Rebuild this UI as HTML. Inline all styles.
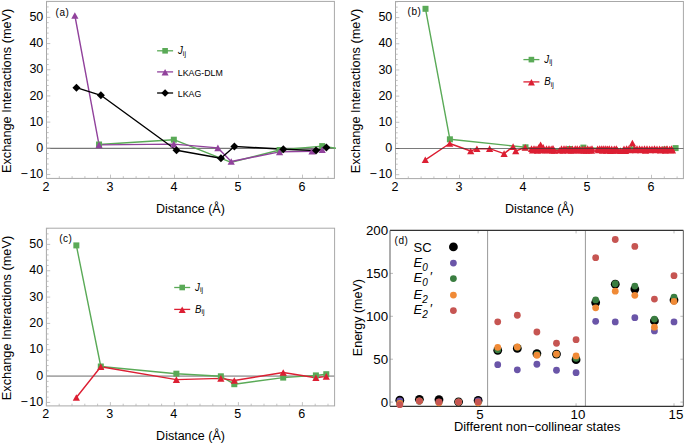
<!DOCTYPE html>
<html><head><meta charset="utf-8"><style>html,body{margin:0;padding:0;background:#fff;width:685px;height:444px;overflow:hidden}svg{display:block}text{font-family:"Liberation Sans",sans-serif}</style></head><body>
<svg width="685" height="444" viewBox="0 0 685 444" font-family='"Liberation Sans", sans-serif' fill="#000">
<rect width="685" height="444" fill="#fff"/>
<clipPath id="clipa"><rect x="46.5" y="1.4" width="289.5" height="177"/></clipPath>
<line x1="46.5" y1="148.3" x2="334.4" y2="148.3" stroke="#555" stroke-width="1" stroke-opacity="1"/>
<rect x="46.5" y="1.4" width="287.9" height="177" fill="none" stroke="#a8a8a8" stroke-width="1"/>
<line x1="46.5" y1="174.48" x2="50.3" y2="174.48" stroke="#b4b4b4" stroke-width="0.8"/>
<text x="43.3" y="178.08" font-size="12.5" text-anchor="end" >&#8722;<tspan dx="1.6">10</tspan></text>
<line x1="46.5" y1="169.24" x2="48.7" y2="169.24" stroke="#b4b4b4" stroke-width="0.8"/>
<line x1="46.5" y1="164.01" x2="48.7" y2="164.01" stroke="#b4b4b4" stroke-width="0.8"/>
<line x1="46.5" y1="158.77" x2="48.7" y2="158.77" stroke="#b4b4b4" stroke-width="0.8"/>
<line x1="46.5" y1="153.54" x2="48.7" y2="153.54" stroke="#b4b4b4" stroke-width="0.8"/>
<line x1="46.5" y1="148.3" x2="50.3" y2="148.3" stroke="#b4b4b4" stroke-width="0.8"/>
<text x="43.3" y="151.9" font-size="12.5" text-anchor="end" >0</text>
<line x1="46.5" y1="143.06" x2="48.7" y2="143.06" stroke="#b4b4b4" stroke-width="0.8"/>
<line x1="46.5" y1="137.83" x2="48.7" y2="137.83" stroke="#b4b4b4" stroke-width="0.8"/>
<line x1="46.5" y1="132.59" x2="48.7" y2="132.59" stroke="#b4b4b4" stroke-width="0.8"/>
<line x1="46.5" y1="127.36" x2="48.7" y2="127.36" stroke="#b4b4b4" stroke-width="0.8"/>
<line x1="46.5" y1="122.12" x2="50.3" y2="122.12" stroke="#b4b4b4" stroke-width="0.8"/>
<text x="43.3" y="125.72" font-size="12.5" text-anchor="end" >10</text>
<line x1="46.5" y1="116.88" x2="48.7" y2="116.88" stroke="#b4b4b4" stroke-width="0.8"/>
<line x1="46.5" y1="111.65" x2="48.7" y2="111.65" stroke="#b4b4b4" stroke-width="0.8"/>
<line x1="46.5" y1="106.41" x2="48.7" y2="106.41" stroke="#b4b4b4" stroke-width="0.8"/>
<line x1="46.5" y1="101.18" x2="48.7" y2="101.18" stroke="#b4b4b4" stroke-width="0.8"/>
<line x1="46.5" y1="95.94" x2="50.3" y2="95.94" stroke="#b4b4b4" stroke-width="0.8"/>
<text x="43.3" y="99.54" font-size="12.5" text-anchor="end" >20</text>
<line x1="46.5" y1="90.7" x2="48.7" y2="90.7" stroke="#b4b4b4" stroke-width="0.8"/>
<line x1="46.5" y1="85.47" x2="48.7" y2="85.47" stroke="#b4b4b4" stroke-width="0.8"/>
<line x1="46.5" y1="80.23" x2="48.7" y2="80.23" stroke="#b4b4b4" stroke-width="0.8"/>
<line x1="46.5" y1="75" x2="48.7" y2="75" stroke="#b4b4b4" stroke-width="0.8"/>
<line x1="46.5" y1="69.76" x2="50.3" y2="69.76" stroke="#b4b4b4" stroke-width="0.8"/>
<text x="43.3" y="73.36" font-size="12.5" text-anchor="end" >30</text>
<line x1="46.5" y1="64.52" x2="48.7" y2="64.52" stroke="#b4b4b4" stroke-width="0.8"/>
<line x1="46.5" y1="59.29" x2="48.7" y2="59.29" stroke="#b4b4b4" stroke-width="0.8"/>
<line x1="46.5" y1="54.05" x2="48.7" y2="54.05" stroke="#b4b4b4" stroke-width="0.8"/>
<line x1="46.5" y1="48.82" x2="48.7" y2="48.82" stroke="#b4b4b4" stroke-width="0.8"/>
<line x1="46.5" y1="43.58" x2="50.3" y2="43.58" stroke="#b4b4b4" stroke-width="0.8"/>
<text x="43.3" y="47.18" font-size="12.5" text-anchor="end" >40</text>
<line x1="46.5" y1="38.34" x2="48.7" y2="38.34" stroke="#b4b4b4" stroke-width="0.8"/>
<line x1="46.5" y1="33.11" x2="48.7" y2="33.11" stroke="#b4b4b4" stroke-width="0.8"/>
<line x1="46.5" y1="27.87" x2="48.7" y2="27.87" stroke="#b4b4b4" stroke-width="0.8"/>
<line x1="46.5" y1="22.64" x2="48.7" y2="22.64" stroke="#b4b4b4" stroke-width="0.8"/>
<line x1="46.5" y1="17.4" x2="50.3" y2="17.4" stroke="#b4b4b4" stroke-width="0.8"/>
<text x="43.3" y="21" font-size="12.5" text-anchor="end" >50</text>
<line x1="46.5" y1="12.16" x2="48.7" y2="12.16" stroke="#b4b4b4" stroke-width="0.8"/>
<line x1="46.5" y1="6.93" x2="48.7" y2="6.93" stroke="#b4b4b4" stroke-width="0.8"/>
<line x1="46.5" y1="1.69" x2="48.7" y2="1.69" stroke="#b4b4b4" stroke-width="0.8"/>
<line x1="46.5" y1="178.4" x2="46.5" y2="174.6" stroke="#b4b4b4" stroke-width="0.8"/>
<text x="45.9" y="190.8" font-size="12.5" text-anchor="middle" >2</text>
<line x1="59.3" y1="178.4" x2="59.3" y2="176.2" stroke="#b4b4b4" stroke-width="0.8"/>
<line x1="72.1" y1="178.4" x2="72.1" y2="176.2" stroke="#b4b4b4" stroke-width="0.8"/>
<line x1="84.9" y1="178.4" x2="84.9" y2="176.2" stroke="#b4b4b4" stroke-width="0.8"/>
<line x1="97.7" y1="178.4" x2="97.7" y2="176.2" stroke="#b4b4b4" stroke-width="0.8"/>
<line x1="110.5" y1="178.4" x2="110.5" y2="174.6" stroke="#b4b4b4" stroke-width="0.8"/>
<text x="109.9" y="190.8" font-size="12.5" text-anchor="middle" >3</text>
<line x1="123.3" y1="178.4" x2="123.3" y2="176.2" stroke="#b4b4b4" stroke-width="0.8"/>
<line x1="136.1" y1="178.4" x2="136.1" y2="176.2" stroke="#b4b4b4" stroke-width="0.8"/>
<line x1="148.9" y1="178.4" x2="148.9" y2="176.2" stroke="#b4b4b4" stroke-width="0.8"/>
<line x1="161.7" y1="178.4" x2="161.7" y2="176.2" stroke="#b4b4b4" stroke-width="0.8"/>
<line x1="174.5" y1="178.4" x2="174.5" y2="174.6" stroke="#b4b4b4" stroke-width="0.8"/>
<text x="173.9" y="190.8" font-size="12.5" text-anchor="middle" >4</text>
<line x1="187.3" y1="178.4" x2="187.3" y2="176.2" stroke="#b4b4b4" stroke-width="0.8"/>
<line x1="200.1" y1="178.4" x2="200.1" y2="176.2" stroke="#b4b4b4" stroke-width="0.8"/>
<line x1="212.9" y1="178.4" x2="212.9" y2="176.2" stroke="#b4b4b4" stroke-width="0.8"/>
<line x1="225.7" y1="178.4" x2="225.7" y2="176.2" stroke="#b4b4b4" stroke-width="0.8"/>
<line x1="238.5" y1="178.4" x2="238.5" y2="174.6" stroke="#b4b4b4" stroke-width="0.8"/>
<text x="237.9" y="190.8" font-size="12.5" text-anchor="middle" >5</text>
<line x1="251.3" y1="178.4" x2="251.3" y2="176.2" stroke="#b4b4b4" stroke-width="0.8"/>
<line x1="264.1" y1="178.4" x2="264.1" y2="176.2" stroke="#b4b4b4" stroke-width="0.8"/>
<line x1="276.9" y1="178.4" x2="276.9" y2="176.2" stroke="#b4b4b4" stroke-width="0.8"/>
<line x1="289.7" y1="178.4" x2="289.7" y2="176.2" stroke="#b4b4b4" stroke-width="0.8"/>
<line x1="302.5" y1="178.4" x2="302.5" y2="174.6" stroke="#b4b4b4" stroke-width="0.8"/>
<text x="301.9" y="190.8" font-size="12.5" text-anchor="middle" >6</text>
<line x1="315.3" y1="178.4" x2="315.3" y2="176.2" stroke="#b4b4b4" stroke-width="0.8"/>
<line x1="328.1" y1="178.4" x2="328.1" y2="176.2" stroke="#b4b4b4" stroke-width="0.8"/>
<text x="190.45" y="212.6" font-size="12.5" text-anchor="middle" >Distance (&#197;)</text>
<text x="0" y="0" font-size="12.75" text-anchor="middle" transform="translate(10.9,90.85) rotate(-90)">Exchange Interactions (meV)</text>
<text x="55.5" y="15.5" font-size="10" text-anchor="start" letter-spacing="0.55">(a)</text>
<g clip-path="url(#clipa)">
<polyline points="99.04,144.5 173.83,139.7 231.21,162.3 279.59,150 322.21,146.1 388.9,156.6" fill="none" stroke="#5aaa57" stroke-width="1.4" stroke-linejoin="round"/>
<polyline points="74.86,15.5 99.04,144.9 173.83,144.1 217.9,147.9 231.21,161.5 279.59,151.9 311.99,151.2 322.21,149.6" fill="none" stroke="#91429c" stroke-width="1.4" stroke-linejoin="round"/>
<polyline points="76.45,87.7 100.9,95.3 176.48,150.2 220.96,158.3 234.4,146.4 283.3,149.3 316,150.5 326.37,147.6" fill="none" stroke="#000000" stroke-width="1.4" stroke-linejoin="round"/>
<rect x="96.04" y="141.5" width="6" height="6" fill="#5aaa57"/>
<rect x="170.83" y="136.7" width="6" height="6" fill="#5aaa57"/>
<rect x="276.59" y="147" width="6" height="6" fill="#5aaa57"/>
<rect x="319.21" y="143.1" width="6" height="6" fill="#5aaa57"/>
<rect x="385.9" y="153.6" width="6" height="6" fill="#5aaa57"/>
<path d="M74.86,12.2L78.46,18.8L71.26,18.8Z" fill="#91429c"/>
<path d="M99.04,141.6L102.64,148.2L95.44,148.2Z" fill="#91429c"/>
<path d="M173.83,140.8L177.43,147.4L170.23,147.4Z" fill="#91429c"/>
<path d="M217.9,144.6L221.5,151.2L214.3,151.2Z" fill="#91429c"/>
<path d="M231.21,158.2L234.81,164.8L227.61,164.8Z" fill="#91429c"/>
<path d="M279.59,148.6L283.19,155.2L275.99,155.2Z" fill="#91429c"/>
<path d="M311.99,147.9L315.59,154.5L308.39,154.5Z" fill="#91429c"/>
<path d="M322.21,146.3L325.81,152.9L318.61,152.9Z" fill="#91429c"/>
<path d="M76.45,83.7L80.45,87.7L76.45,91.7L72.45,87.7Z" fill="#000000"/>
<path d="M100.9,91.3L104.9,95.3L100.9,99.3L96.9,95.3Z" fill="#000000"/>
<path d="M176.48,146.2L180.48,150.2L176.48,154.2L172.48,150.2Z" fill="#000000"/>
<path d="M220.96,154.3L224.96,158.3L220.96,162.3L216.96,158.3Z" fill="#000000"/>
<path d="M234.4,142.4L238.4,146.4L234.4,150.4L230.4,146.4Z" fill="#000000"/>
<path d="M283.3,145.3L287.3,149.3L283.3,153.3L279.3,149.3Z" fill="#000000"/>
<path d="M316,146.5L320,150.5L316,154.5L312,150.5Z" fill="#000000"/>
<path d="M326.37,143.6L330.37,147.6L326.37,151.6L322.37,147.6Z" fill="#000000"/>
</g>
<line x1="157.1" y1="50.8" x2="173.1" y2="50.8" stroke="#5aaa57" stroke-width="1.3"/>
<rect x="162.3" y="48" width="5.6" height="5.6" fill="#5aaa57"/>
<text transform="translate(178,54.2) scale(1,1.14)" font-size="9.7"><tspan font-style="italic">J</tspan><tspan font-size="6.9" dy="1.3">ij</tspan></text>
<line x1="157.1" y1="71.9" x2="173.1" y2="71.9" stroke="#91429c" stroke-width="1.3"/>
<path d="M165.1,69.1L168.6,75.5L161.6,75.5Z" fill="#91429c"/>
<text x="177.8" y="75.8" font-size="8.8" text-anchor="start" >LKAG-DLM</text>
<line x1="157.1" y1="93" x2="173.1" y2="93" stroke="#000000" stroke-width="1.3"/>
<path d="M165.1,89.2L168.9,93L165.1,96.8L161.3,93Z" fill="#000000"/>
<text x="177.8" y="96.9" font-size="8.8" text-anchor="start" >LKAG</text>
<clipPath id="clipb"><rect x="395.5" y="1.5" width="289.5" height="177.1"/></clipPath>
<rect x="395.5" y="1.5" width="287.9" height="177.1" fill="none" stroke="#a8a8a8" stroke-width="1"/>
<line x1="395.5" y1="174.68" x2="399.3" y2="174.68" stroke="#b4b4b4" stroke-width="0.8"/>
<text x="392.3" y="178.28" font-size="12.5" text-anchor="end" >&#8722;<tspan dx="1.6">10</tspan></text>
<line x1="395.5" y1="169.44" x2="397.7" y2="169.44" stroke="#b4b4b4" stroke-width="0.8"/>
<line x1="395.5" y1="164.21" x2="397.7" y2="164.21" stroke="#b4b4b4" stroke-width="0.8"/>
<line x1="395.5" y1="158.97" x2="397.7" y2="158.97" stroke="#b4b4b4" stroke-width="0.8"/>
<line x1="395.5" y1="153.74" x2="397.7" y2="153.74" stroke="#b4b4b4" stroke-width="0.8"/>
<line x1="395.5" y1="148.5" x2="399.3" y2="148.5" stroke="#b4b4b4" stroke-width="0.8"/>
<text x="392.3" y="152.1" font-size="12.5" text-anchor="end" >0</text>
<line x1="395.5" y1="143.26" x2="397.7" y2="143.26" stroke="#b4b4b4" stroke-width="0.8"/>
<line x1="395.5" y1="138.03" x2="397.7" y2="138.03" stroke="#b4b4b4" stroke-width="0.8"/>
<line x1="395.5" y1="132.79" x2="397.7" y2="132.79" stroke="#b4b4b4" stroke-width="0.8"/>
<line x1="395.5" y1="127.56" x2="397.7" y2="127.56" stroke="#b4b4b4" stroke-width="0.8"/>
<line x1="395.5" y1="122.32" x2="399.3" y2="122.32" stroke="#b4b4b4" stroke-width="0.8"/>
<text x="392.3" y="125.92" font-size="12.5" text-anchor="end" >10</text>
<line x1="395.5" y1="117.08" x2="397.7" y2="117.08" stroke="#b4b4b4" stroke-width="0.8"/>
<line x1="395.5" y1="111.85" x2="397.7" y2="111.85" stroke="#b4b4b4" stroke-width="0.8"/>
<line x1="395.5" y1="106.61" x2="397.7" y2="106.61" stroke="#b4b4b4" stroke-width="0.8"/>
<line x1="395.5" y1="101.38" x2="397.7" y2="101.38" stroke="#b4b4b4" stroke-width="0.8"/>
<line x1="395.5" y1="96.14" x2="399.3" y2="96.14" stroke="#b4b4b4" stroke-width="0.8"/>
<text x="392.3" y="99.74" font-size="12.5" text-anchor="end" >20</text>
<line x1="395.5" y1="90.9" x2="397.7" y2="90.9" stroke="#b4b4b4" stroke-width="0.8"/>
<line x1="395.5" y1="85.67" x2="397.7" y2="85.67" stroke="#b4b4b4" stroke-width="0.8"/>
<line x1="395.5" y1="80.43" x2="397.7" y2="80.43" stroke="#b4b4b4" stroke-width="0.8"/>
<line x1="395.5" y1="75.2" x2="397.7" y2="75.2" stroke="#b4b4b4" stroke-width="0.8"/>
<line x1="395.5" y1="69.96" x2="399.3" y2="69.96" stroke="#b4b4b4" stroke-width="0.8"/>
<text x="392.3" y="73.56" font-size="12.5" text-anchor="end" >30</text>
<line x1="395.5" y1="64.72" x2="397.7" y2="64.72" stroke="#b4b4b4" stroke-width="0.8"/>
<line x1="395.5" y1="59.49" x2="397.7" y2="59.49" stroke="#b4b4b4" stroke-width="0.8"/>
<line x1="395.5" y1="54.25" x2="397.7" y2="54.25" stroke="#b4b4b4" stroke-width="0.8"/>
<line x1="395.5" y1="49.02" x2="397.7" y2="49.02" stroke="#b4b4b4" stroke-width="0.8"/>
<line x1="395.5" y1="43.78" x2="399.3" y2="43.78" stroke="#b4b4b4" stroke-width="0.8"/>
<text x="392.3" y="47.38" font-size="12.5" text-anchor="end" >40</text>
<line x1="395.5" y1="38.54" x2="397.7" y2="38.54" stroke="#b4b4b4" stroke-width="0.8"/>
<line x1="395.5" y1="33.31" x2="397.7" y2="33.31" stroke="#b4b4b4" stroke-width="0.8"/>
<line x1="395.5" y1="28.07" x2="397.7" y2="28.07" stroke="#b4b4b4" stroke-width="0.8"/>
<line x1="395.5" y1="22.84" x2="397.7" y2="22.84" stroke="#b4b4b4" stroke-width="0.8"/>
<line x1="395.5" y1="17.6" x2="399.3" y2="17.6" stroke="#b4b4b4" stroke-width="0.8"/>
<text x="392.3" y="21.2" font-size="12.5" text-anchor="end" >50</text>
<line x1="395.5" y1="12.36" x2="397.7" y2="12.36" stroke="#b4b4b4" stroke-width="0.8"/>
<line x1="395.5" y1="7.13" x2="397.7" y2="7.13" stroke="#b4b4b4" stroke-width="0.8"/>
<line x1="395.5" y1="1.89" x2="397.7" y2="1.89" stroke="#b4b4b4" stroke-width="0.8"/>
<line x1="395.5" y1="178.6" x2="395.5" y2="174.8" stroke="#b4b4b4" stroke-width="0.8"/>
<text x="394.9" y="191" font-size="12.5" text-anchor="middle" >2</text>
<line x1="408.3" y1="178.6" x2="408.3" y2="176.4" stroke="#b4b4b4" stroke-width="0.8"/>
<line x1="421.1" y1="178.6" x2="421.1" y2="176.4" stroke="#b4b4b4" stroke-width="0.8"/>
<line x1="433.9" y1="178.6" x2="433.9" y2="176.4" stroke="#b4b4b4" stroke-width="0.8"/>
<line x1="446.7" y1="178.6" x2="446.7" y2="176.4" stroke="#b4b4b4" stroke-width="0.8"/>
<line x1="459.5" y1="178.6" x2="459.5" y2="174.8" stroke="#b4b4b4" stroke-width="0.8"/>
<text x="458.9" y="191" font-size="12.5" text-anchor="middle" >3</text>
<line x1="472.3" y1="178.6" x2="472.3" y2="176.4" stroke="#b4b4b4" stroke-width="0.8"/>
<line x1="485.1" y1="178.6" x2="485.1" y2="176.4" stroke="#b4b4b4" stroke-width="0.8"/>
<line x1="497.9" y1="178.6" x2="497.9" y2="176.4" stroke="#b4b4b4" stroke-width="0.8"/>
<line x1="510.7" y1="178.6" x2="510.7" y2="176.4" stroke="#b4b4b4" stroke-width="0.8"/>
<line x1="523.5" y1="178.6" x2="523.5" y2="174.8" stroke="#b4b4b4" stroke-width="0.8"/>
<text x="522.9" y="191" font-size="12.5" text-anchor="middle" >4</text>
<line x1="536.3" y1="178.6" x2="536.3" y2="176.4" stroke="#b4b4b4" stroke-width="0.8"/>
<line x1="549.1" y1="178.6" x2="549.1" y2="176.4" stroke="#b4b4b4" stroke-width="0.8"/>
<line x1="561.9" y1="178.6" x2="561.9" y2="176.4" stroke="#b4b4b4" stroke-width="0.8"/>
<line x1="574.7" y1="178.6" x2="574.7" y2="176.4" stroke="#b4b4b4" stroke-width="0.8"/>
<line x1="587.5" y1="178.6" x2="587.5" y2="174.8" stroke="#b4b4b4" stroke-width="0.8"/>
<text x="586.9" y="191" font-size="12.5" text-anchor="middle" >5</text>
<line x1="600.3" y1="178.6" x2="600.3" y2="176.4" stroke="#b4b4b4" stroke-width="0.8"/>
<line x1="613.1" y1="178.6" x2="613.1" y2="176.4" stroke="#b4b4b4" stroke-width="0.8"/>
<line x1="625.9" y1="178.6" x2="625.9" y2="176.4" stroke="#b4b4b4" stroke-width="0.8"/>
<line x1="638.7" y1="178.6" x2="638.7" y2="176.4" stroke="#b4b4b4" stroke-width="0.8"/>
<line x1="651.5" y1="178.6" x2="651.5" y2="174.8" stroke="#b4b4b4" stroke-width="0.8"/>
<text x="650.9" y="191" font-size="12.5" text-anchor="middle" >6</text>
<line x1="664.3" y1="178.6" x2="664.3" y2="176.4" stroke="#b4b4b4" stroke-width="0.8"/>
<line x1="677.1" y1="178.6" x2="677.1" y2="176.4" stroke="#b4b4b4" stroke-width="0.8"/>
<text x="539.45" y="212.8" font-size="12.5" text-anchor="middle" >Distance (&#197;)</text>
<text x="0" y="0" font-size="12.75" text-anchor="middle" transform="translate(359.9,91) rotate(-90)">Exchange Interactions (meV)</text>
<text x="407.5" y="14.8" font-size="10" text-anchor="start" letter-spacing="0.55">(b)</text>
<g clip-path="url(#clipb)">
<polyline points="425.5,8.8 449.9,139.3 525.5,147.3 538.4,149.8 570,149 583.4,147.6 632.3,149.5 665,149.5 675.6,148.1" fill="none" stroke="#5aaa57" stroke-width="1.4" stroke-linejoin="round"/>
<polyline points="425.3,159.8 449.7,143.5 470.7,151 476.9,148.7 489.6,148.6 504.1,153.6 513.1,146.6 515.7,151 525.2,147.4 531.5,148.59 532.5,150.19 534,148.49 536,148.79 537.5,150.43 538.6,147.6 540.6,144.8 541.5,150.01 543,148.72 543.2,147.4 545,150.24 546.5,148.62 548,149.93 549,148.43 551.2,148.7 552,150.37 553,148.42 554.5,150.44 559.5,150.3 561.5,148.66 563,150.51 564,148.44 566.1,148.45 568,150.12 569.6,148.65 571,150.39 572.5,148.9 574,150.32 575.2,148.47 577.2,148.53 578,150.31 579.6,148.78 581,150.22 582.5,148.97 584,150.49 585.1,148.75 586.5,150.56 587.7,148.64 589,150.23 590.1,148.99 591.5,150.36 592,148.43 597.6,148.92 598.5,149.94 599.7,148.57 601.8,148.49 602.5,150.39 603.8,148.47 605.8,148.59 606.5,150.35 607.6,148.89 609.3,148.51 610.5,150.6 611.7,148.75 613,150.48 614.3,148.78 615.5,150.1 616.3,148.62 617.5,150.17 620.5,150.6 623,150.6 624,148.73 625.5,150.6 626.6,148.44 628.9,148.44 630,150.02 632.4,143 634.5,148.81 635.5,149.98 637,148.66 639.5,148.59 640.5,149.94 642,148.75 644.5,148.67 645.5,150.44 647,148.58 649.5,148.88 650.5,149.99 652,148.82 654.5,148.55 655.5,150.07 657,148.74 659.5,148.72 660.5,150.17 662,148.93 664.5,148.84 665.5,150.51 667,148.57 669.5,148.99 670.5,149.96 671.5,148.47 672.5,150.21" fill="none" stroke="#dc1f33" stroke-width="1.4" stroke-linejoin="round"/>
<rect x="422.5" y="5.8" width="6" height="6" fill="#5aaa57"/>
<rect x="446.9" y="136.3" width="6" height="6" fill="#5aaa57"/>
<rect x="522.5" y="144.3" width="6" height="6" fill="#5aaa57"/>
<rect x="535.4" y="146.8" width="6" height="6" fill="#5aaa57"/>
<rect x="567" y="146" width="6" height="6" fill="#5aaa57"/>
<rect x="580.4" y="144.6" width="6" height="6" fill="#5aaa57"/>
<rect x="629.3" y="146.5" width="6" height="6" fill="#5aaa57"/>
<rect x="662" y="146.5" width="6" height="6" fill="#5aaa57"/>
<rect x="672.6" y="145.1" width="6" height="6" fill="#5aaa57"/>
<path d="M425.3,156.5L428.9,163.1L421.7,163.1Z" fill="#dc1f33"/>
<path d="M449.7,140.2L453.3,146.8L446.1,146.8Z" fill="#dc1f33"/>
<path d="M470.7,147.7L474.3,154.3L467.1,154.3Z" fill="#dc1f33"/>
<path d="M476.9,145.4L480.5,152L473.3,152Z" fill="#dc1f33"/>
<path d="M489.6,145.3L493.2,151.9L486,151.9Z" fill="#dc1f33"/>
<path d="M504.1,150.3L507.7,156.9L500.5,156.9Z" fill="#dc1f33"/>
<path d="M513.1,143.3L516.7,149.9L509.5,149.9Z" fill="#dc1f33"/>
<path d="M515.7,147.7L519.3,154.3L512.1,154.3Z" fill="#dc1f33"/>
<path d="M525.2,144.1L528.8,150.7L521.6,150.7Z" fill="#dc1f33"/>
<path d="M531.5,145.29L535.1,151.89L527.9,151.89Z" fill="#dc1f33"/>
<path d="M532.5,146.89L536.1,153.49L528.9,153.49Z" fill="#dc1f33"/>
<path d="M534,145.19L537.6,151.79L530.4,151.79Z" fill="#dc1f33"/>
<path d="M536,145.49L539.6,152.09L532.4,152.09Z" fill="#dc1f33"/>
<path d="M537.5,147.13L541.1,153.73L533.9,153.73Z" fill="#dc1f33"/>
<path d="M538.6,144.3L542.2,150.9L535,150.9Z" fill="#dc1f33"/>
<path d="M540.6,141.5L544.2,148.1L537,148.1Z" fill="#dc1f33"/>
<path d="M541.5,146.71L545.1,153.31L537.9,153.31Z" fill="#dc1f33"/>
<path d="M543,145.42L546.6,152.02L539.4,152.02Z" fill="#dc1f33"/>
<path d="M543.2,144.1L546.8,150.7L539.6,150.7Z" fill="#dc1f33"/>
<path d="M545,146.94L548.6,153.54L541.4,153.54Z" fill="#dc1f33"/>
<path d="M546.5,145.32L550.1,151.92L542.9,151.92Z" fill="#dc1f33"/>
<path d="M548,146.63L551.6,153.23L544.4,153.23Z" fill="#dc1f33"/>
<path d="M549,145.13L552.6,151.73L545.4,151.73Z" fill="#dc1f33"/>
<path d="M551.2,145.4L554.8,152L547.6,152Z" fill="#dc1f33"/>
<path d="M552,147.07L555.6,153.67L548.4,153.67Z" fill="#dc1f33"/>
<path d="M553,145.12L556.6,151.72L549.4,151.72Z" fill="#dc1f33"/>
<path d="M554.5,147.14L558.1,153.74L550.9,153.74Z" fill="#dc1f33"/>
<path d="M559.5,147L563.1,153.6L555.9,153.6Z" fill="#dc1f33"/>
<path d="M561.5,145.36L565.1,151.96L557.9,151.96Z" fill="#dc1f33"/>
<path d="M563,147.21L566.6,153.81L559.4,153.81Z" fill="#dc1f33"/>
<path d="M564,145.14L567.6,151.74L560.4,151.74Z" fill="#dc1f33"/>
<path d="M566.1,145.15L569.7,151.75L562.5,151.75Z" fill="#dc1f33"/>
<path d="M568,146.82L571.6,153.42L564.4,153.42Z" fill="#dc1f33"/>
<path d="M569.6,145.35L573.2,151.95L566,151.95Z" fill="#dc1f33"/>
<path d="M571,147.09L574.6,153.69L567.4,153.69Z" fill="#dc1f33"/>
<path d="M572.5,145.6L576.1,152.2L568.9,152.2Z" fill="#dc1f33"/>
<path d="M574,147.02L577.6,153.62L570.4,153.62Z" fill="#dc1f33"/>
<path d="M575.2,145.17L578.8,151.77L571.6,151.77Z" fill="#dc1f33"/>
<path d="M577.2,145.23L580.8,151.83L573.6,151.83Z" fill="#dc1f33"/>
<path d="M578,147.01L581.6,153.61L574.4,153.61Z" fill="#dc1f33"/>
<path d="M579.6,145.48L583.2,152.08L576,152.08Z" fill="#dc1f33"/>
<path d="M581,146.92L584.6,153.52L577.4,153.52Z" fill="#dc1f33"/>
<path d="M582.5,145.67L586.1,152.27L578.9,152.27Z" fill="#dc1f33"/>
<path d="M584,147.19L587.6,153.79L580.4,153.79Z" fill="#dc1f33"/>
<path d="M585.1,145.45L588.7,152.05L581.5,152.05Z" fill="#dc1f33"/>
<path d="M586.5,147.26L590.1,153.86L582.9,153.86Z" fill="#dc1f33"/>
<path d="M587.7,145.34L591.3,151.94L584.1,151.94Z" fill="#dc1f33"/>
<path d="M589,146.93L592.6,153.53L585.4,153.53Z" fill="#dc1f33"/>
<path d="M590.1,145.69L593.7,152.29L586.5,152.29Z" fill="#dc1f33"/>
<path d="M591.5,147.06L595.1,153.66L587.9,153.66Z" fill="#dc1f33"/>
<path d="M592,145.13L595.6,151.73L588.4,151.73Z" fill="#dc1f33"/>
<path d="M597.6,145.62L601.2,152.22L594,152.22Z" fill="#dc1f33"/>
<path d="M598.5,146.64L602.1,153.24L594.9,153.24Z" fill="#dc1f33"/>
<path d="M599.7,145.27L603.3,151.87L596.1,151.87Z" fill="#dc1f33"/>
<path d="M601.8,145.19L605.4,151.79L598.2,151.79Z" fill="#dc1f33"/>
<path d="M602.5,147.09L606.1,153.69L598.9,153.69Z" fill="#dc1f33"/>
<path d="M603.8,145.17L607.4,151.77L600.2,151.77Z" fill="#dc1f33"/>
<path d="M605.8,145.29L609.4,151.89L602.2,151.89Z" fill="#dc1f33"/>
<path d="M606.5,147.05L610.1,153.65L602.9,153.65Z" fill="#dc1f33"/>
<path d="M607.6,145.59L611.2,152.19L604,152.19Z" fill="#dc1f33"/>
<path d="M609.3,145.21L612.9,151.81L605.7,151.81Z" fill="#dc1f33"/>
<path d="M610.5,147.3L614.1,153.9L606.9,153.9Z" fill="#dc1f33"/>
<path d="M611.7,145.45L615.3,152.05L608.1,152.05Z" fill="#dc1f33"/>
<path d="M613,147.18L616.6,153.78L609.4,153.78Z" fill="#dc1f33"/>
<path d="M614.3,145.48L617.9,152.08L610.7,152.08Z" fill="#dc1f33"/>
<path d="M615.5,146.8L619.1,153.4L611.9,153.4Z" fill="#dc1f33"/>
<path d="M616.3,145.32L619.9,151.92L612.7,151.92Z" fill="#dc1f33"/>
<path d="M617.5,146.87L621.1,153.47L613.9,153.47Z" fill="#dc1f33"/>
<path d="M620.5,147.3L624.1,153.9L616.9,153.9Z" fill="#dc1f33"/>
<path d="M623,147.3L626.6,153.9L619.4,153.9Z" fill="#dc1f33"/>
<path d="M624,145.43L627.6,152.03L620.4,152.03Z" fill="#dc1f33"/>
<path d="M625.5,147.3L629.1,153.9L621.9,153.9Z" fill="#dc1f33"/>
<path d="M626.6,145.14L630.2,151.74L623,151.74Z" fill="#dc1f33"/>
<path d="M628.9,145.14L632.5,151.74L625.3,151.74Z" fill="#dc1f33"/>
<path d="M630,146.72L633.6,153.32L626.4,153.32Z" fill="#dc1f33"/>
<path d="M632.4,139.7L636,146.3L628.8,146.3Z" fill="#dc1f33"/>
<path d="M634.5,145.51L638.1,152.11L630.9,152.11Z" fill="#dc1f33"/>
<path d="M635.5,146.68L639.1,153.28L631.9,153.28Z" fill="#dc1f33"/>
<path d="M637,145.36L640.6,151.96L633.4,151.96Z" fill="#dc1f33"/>
<path d="M639.5,145.29L643.1,151.89L635.9,151.89Z" fill="#dc1f33"/>
<path d="M640.5,146.64L644.1,153.24L636.9,153.24Z" fill="#dc1f33"/>
<path d="M642,145.45L645.6,152.05L638.4,152.05Z" fill="#dc1f33"/>
<path d="M644.5,145.37L648.1,151.97L640.9,151.97Z" fill="#dc1f33"/>
<path d="M645.5,147.14L649.1,153.74L641.9,153.74Z" fill="#dc1f33"/>
<path d="M647,145.28L650.6,151.88L643.4,151.88Z" fill="#dc1f33"/>
<path d="M649.5,145.58L653.1,152.18L645.9,152.18Z" fill="#dc1f33"/>
<path d="M650.5,146.69L654.1,153.29L646.9,153.29Z" fill="#dc1f33"/>
<path d="M652,145.52L655.6,152.12L648.4,152.12Z" fill="#dc1f33"/>
<path d="M654.5,145.25L658.1,151.85L650.9,151.85Z" fill="#dc1f33"/>
<path d="M655.5,146.77L659.1,153.37L651.9,153.37Z" fill="#dc1f33"/>
<path d="M657,145.44L660.6,152.04L653.4,152.04Z" fill="#dc1f33"/>
<path d="M659.5,145.42L663.1,152.02L655.9,152.02Z" fill="#dc1f33"/>
<path d="M660.5,146.87L664.1,153.47L656.9,153.47Z" fill="#dc1f33"/>
<path d="M662,145.63L665.6,152.23L658.4,152.23Z" fill="#dc1f33"/>
<path d="M664.5,145.54L668.1,152.14L660.9,152.14Z" fill="#dc1f33"/>
<path d="M665.5,147.21L669.1,153.81L661.9,153.81Z" fill="#dc1f33"/>
<path d="M667,145.27L670.6,151.87L663.4,151.87Z" fill="#dc1f33"/>
<path d="M669.5,145.69L673.1,152.29L665.9,152.29Z" fill="#dc1f33"/>
<path d="M670.5,146.66L674.1,153.26L666.9,153.26Z" fill="#dc1f33"/>
<path d="M671.5,145.17L675.1,151.77L667.9,151.77Z" fill="#dc1f33"/>
<path d="M672.5,146.91L676.1,153.51L668.9,153.51Z" fill="#dc1f33"/>
</g>
<line x1="395.5" y1="148.5" x2="683.4" y2="148.5" stroke="#333" stroke-width="1" stroke-opacity="0.65"/>
<line x1="523.4" y1="59.6" x2="539.4" y2="59.6" stroke="#5aaa57" stroke-width="1.3"/>
<rect x="528.6" y="56.8" width="5.6" height="5.6" fill="#5aaa57"/>
<text transform="translate(544.3,63) scale(1,1.14)" font-size="9.7"><tspan font-style="italic">J</tspan><tspan font-size="6.9" dy="1.3">ij</tspan></text>
<line x1="523.4" y1="81.9" x2="539.4" y2="81.9" stroke="#dc1f33" stroke-width="1.3"/>
<path d="M531.4,79.1L534.9,85.5L527.9,85.5Z" fill="#dc1f33"/>
<text transform="translate(544.3,85.3) scale(1,1.14)" font-size="9.7"><tspan font-style="italic">B</tspan><tspan font-size="6.9" dy="1.3">ij</tspan></text>
<clipPath id="clipc"><rect x="46.4" y="228.2" width="289.8" height="177.7"/></clipPath>
<line x1="46.4" y1="376.1" x2="334.6" y2="376.1" stroke="#aaa" stroke-width="1.6" stroke-opacity="1"/>
<rect x="46.4" y="228.2" width="288.2" height="177.7" fill="none" stroke="#a8a8a8" stroke-width="1"/>
<line x1="46.4" y1="402.44" x2="50.2" y2="402.44" stroke="#b4b4b4" stroke-width="0.8"/>
<text x="43.2" y="406.04" font-size="12.5" text-anchor="end" >&#8722;<tspan dx="1.6">10</tspan></text>
<line x1="46.4" y1="397.17" x2="48.6" y2="397.17" stroke="#b4b4b4" stroke-width="0.8"/>
<line x1="46.4" y1="391.9" x2="48.6" y2="391.9" stroke="#b4b4b4" stroke-width="0.8"/>
<line x1="46.4" y1="386.64" x2="48.6" y2="386.64" stroke="#b4b4b4" stroke-width="0.8"/>
<line x1="46.4" y1="381.37" x2="48.6" y2="381.37" stroke="#b4b4b4" stroke-width="0.8"/>
<line x1="46.4" y1="376.1" x2="50.2" y2="376.1" stroke="#b4b4b4" stroke-width="0.8"/>
<text x="43.2" y="379.7" font-size="12.5" text-anchor="end" >0</text>
<line x1="46.4" y1="370.83" x2="48.6" y2="370.83" stroke="#b4b4b4" stroke-width="0.8"/>
<line x1="46.4" y1="365.56" x2="48.6" y2="365.56" stroke="#b4b4b4" stroke-width="0.8"/>
<line x1="46.4" y1="360.3" x2="48.6" y2="360.3" stroke="#b4b4b4" stroke-width="0.8"/>
<line x1="46.4" y1="355.03" x2="48.6" y2="355.03" stroke="#b4b4b4" stroke-width="0.8"/>
<line x1="46.4" y1="349.76" x2="50.2" y2="349.76" stroke="#b4b4b4" stroke-width="0.8"/>
<text x="43.2" y="353.36" font-size="12.5" text-anchor="end" >10</text>
<line x1="46.4" y1="344.49" x2="48.6" y2="344.49" stroke="#b4b4b4" stroke-width="0.8"/>
<line x1="46.4" y1="339.22" x2="48.6" y2="339.22" stroke="#b4b4b4" stroke-width="0.8"/>
<line x1="46.4" y1="333.96" x2="48.6" y2="333.96" stroke="#b4b4b4" stroke-width="0.8"/>
<line x1="46.4" y1="328.69" x2="48.6" y2="328.69" stroke="#b4b4b4" stroke-width="0.8"/>
<line x1="46.4" y1="323.42" x2="50.2" y2="323.42" stroke="#b4b4b4" stroke-width="0.8"/>
<text x="43.2" y="327.02" font-size="12.5" text-anchor="end" >20</text>
<line x1="46.4" y1="318.15" x2="48.6" y2="318.15" stroke="#b4b4b4" stroke-width="0.8"/>
<line x1="46.4" y1="312.88" x2="48.6" y2="312.88" stroke="#b4b4b4" stroke-width="0.8"/>
<line x1="46.4" y1="307.62" x2="48.6" y2="307.62" stroke="#b4b4b4" stroke-width="0.8"/>
<line x1="46.4" y1="302.35" x2="48.6" y2="302.35" stroke="#b4b4b4" stroke-width="0.8"/>
<line x1="46.4" y1="297.08" x2="50.2" y2="297.08" stroke="#b4b4b4" stroke-width="0.8"/>
<text x="43.2" y="300.68" font-size="12.5" text-anchor="end" >30</text>
<line x1="46.4" y1="291.81" x2="48.6" y2="291.81" stroke="#b4b4b4" stroke-width="0.8"/>
<line x1="46.4" y1="286.54" x2="48.6" y2="286.54" stroke="#b4b4b4" stroke-width="0.8"/>
<line x1="46.4" y1="281.28" x2="48.6" y2="281.28" stroke="#b4b4b4" stroke-width="0.8"/>
<line x1="46.4" y1="276.01" x2="48.6" y2="276.01" stroke="#b4b4b4" stroke-width="0.8"/>
<line x1="46.4" y1="270.74" x2="50.2" y2="270.74" stroke="#b4b4b4" stroke-width="0.8"/>
<text x="43.2" y="274.34" font-size="12.5" text-anchor="end" >40</text>
<line x1="46.4" y1="265.47" x2="48.6" y2="265.47" stroke="#b4b4b4" stroke-width="0.8"/>
<line x1="46.4" y1="260.2" x2="48.6" y2="260.2" stroke="#b4b4b4" stroke-width="0.8"/>
<line x1="46.4" y1="254.94" x2="48.6" y2="254.94" stroke="#b4b4b4" stroke-width="0.8"/>
<line x1="46.4" y1="249.67" x2="48.6" y2="249.67" stroke="#b4b4b4" stroke-width="0.8"/>
<line x1="46.4" y1="244.4" x2="50.2" y2="244.4" stroke="#b4b4b4" stroke-width="0.8"/>
<text x="43.2" y="248" font-size="12.5" text-anchor="end" >50</text>
<line x1="46.4" y1="239.13" x2="48.6" y2="239.13" stroke="#b4b4b4" stroke-width="0.8"/>
<line x1="46.4" y1="233.86" x2="48.6" y2="233.86" stroke="#b4b4b4" stroke-width="0.8"/>
<line x1="46.4" y1="228.6" x2="48.6" y2="228.6" stroke="#b4b4b4" stroke-width="0.8"/>
<line x1="46.4" y1="405.9" x2="46.4" y2="402.1" stroke="#b4b4b4" stroke-width="0.8"/>
<text x="45.8" y="418.3" font-size="12.5" text-anchor="middle" >2</text>
<line x1="59.2" y1="405.9" x2="59.2" y2="403.7" stroke="#b4b4b4" stroke-width="0.8"/>
<line x1="72" y1="405.9" x2="72" y2="403.7" stroke="#b4b4b4" stroke-width="0.8"/>
<line x1="84.8" y1="405.9" x2="84.8" y2="403.7" stroke="#b4b4b4" stroke-width="0.8"/>
<line x1="97.6" y1="405.9" x2="97.6" y2="403.7" stroke="#b4b4b4" stroke-width="0.8"/>
<line x1="110.4" y1="405.9" x2="110.4" y2="402.1" stroke="#b4b4b4" stroke-width="0.8"/>
<text x="109.8" y="418.3" font-size="12.5" text-anchor="middle" >3</text>
<line x1="123.2" y1="405.9" x2="123.2" y2="403.7" stroke="#b4b4b4" stroke-width="0.8"/>
<line x1="136" y1="405.9" x2="136" y2="403.7" stroke="#b4b4b4" stroke-width="0.8"/>
<line x1="148.8" y1="405.9" x2="148.8" y2="403.7" stroke="#b4b4b4" stroke-width="0.8"/>
<line x1="161.6" y1="405.9" x2="161.6" y2="403.7" stroke="#b4b4b4" stroke-width="0.8"/>
<line x1="174.4" y1="405.9" x2="174.4" y2="402.1" stroke="#b4b4b4" stroke-width="0.8"/>
<text x="173.8" y="418.3" font-size="12.5" text-anchor="middle" >4</text>
<line x1="187.2" y1="405.9" x2="187.2" y2="403.7" stroke="#b4b4b4" stroke-width="0.8"/>
<line x1="200" y1="405.9" x2="200" y2="403.7" stroke="#b4b4b4" stroke-width="0.8"/>
<line x1="212.8" y1="405.9" x2="212.8" y2="403.7" stroke="#b4b4b4" stroke-width="0.8"/>
<line x1="225.6" y1="405.9" x2="225.6" y2="403.7" stroke="#b4b4b4" stroke-width="0.8"/>
<line x1="238.4" y1="405.9" x2="238.4" y2="402.1" stroke="#b4b4b4" stroke-width="0.8"/>
<text x="237.8" y="418.3" font-size="12.5" text-anchor="middle" >5</text>
<line x1="251.2" y1="405.9" x2="251.2" y2="403.7" stroke="#b4b4b4" stroke-width="0.8"/>
<line x1="264" y1="405.9" x2="264" y2="403.7" stroke="#b4b4b4" stroke-width="0.8"/>
<line x1="276.8" y1="405.9" x2="276.8" y2="403.7" stroke="#b4b4b4" stroke-width="0.8"/>
<line x1="289.6" y1="405.9" x2="289.6" y2="403.7" stroke="#b4b4b4" stroke-width="0.8"/>
<line x1="302.4" y1="405.9" x2="302.4" y2="402.1" stroke="#b4b4b4" stroke-width="0.8"/>
<text x="301.8" y="418.3" font-size="12.5" text-anchor="middle" >6</text>
<line x1="315.2" y1="405.9" x2="315.2" y2="403.7" stroke="#b4b4b4" stroke-width="0.8"/>
<line x1="328" y1="405.9" x2="328" y2="403.7" stroke="#b4b4b4" stroke-width="0.8"/>
<text x="190.5" y="440.1" font-size="12.5" text-anchor="middle" >Distance (&#197;)</text>
<text x="0" y="0" font-size="12.75" text-anchor="middle" transform="translate(10.9,318) rotate(-90)">Exchange Interactions (meV)</text>
<text x="59.2" y="242.3" font-size="10" text-anchor="start" letter-spacing="0.55">(c)</text>
<g clip-path="url(#clipc)">
<polyline points="76.35,245.4 100.8,366.5 176.38,373.7 220.86,376.3 234.3,384.2 283.2,377.6 315.9,375.4 326.27,374.2" fill="none" stroke="#5aaa57" stroke-width="1.4" stroke-linejoin="round"/>
<polyline points="76.35,397.5 100.8,366.8 176.38,379.6 220.86,378.4 234.3,380.5 283.2,372.5 315.9,377.8 326.27,376.4" fill="none" stroke="#dc1f33" stroke-width="1.4" stroke-linejoin="round"/>
<rect x="73.35" y="242.4" width="6" height="6" fill="#5aaa57"/>
<rect x="97.8" y="363.5" width="6" height="6" fill="#5aaa57"/>
<rect x="173.38" y="370.7" width="6" height="6" fill="#5aaa57"/>
<rect x="217.86" y="373.3" width="6" height="6" fill="#5aaa57"/>
<rect x="231.3" y="381.2" width="6" height="6" fill="#5aaa57"/>
<rect x="280.2" y="374.6" width="6" height="6" fill="#5aaa57"/>
<rect x="312.9" y="372.4" width="6" height="6" fill="#5aaa57"/>
<rect x="323.27" y="371.2" width="6" height="6" fill="#5aaa57"/>
<path d="M76.35,394.2L79.95,400.8L72.75,400.8Z" fill="#dc1f33"/>
<path d="M100.8,363.5L104.4,370.1L97.2,370.1Z" fill="#dc1f33"/>
<path d="M176.38,376.3L179.98,382.9L172.78,382.9Z" fill="#dc1f33"/>
<path d="M220.86,375.1L224.46,381.7L217.26,381.7Z" fill="#dc1f33"/>
<path d="M234.3,377.2L237.9,383.8L230.7,383.8Z" fill="#dc1f33"/>
<path d="M283.2,369.2L286.8,375.8L279.6,375.8Z" fill="#dc1f33"/>
<path d="M315.9,374.5L319.5,381.1L312.3,381.1Z" fill="#dc1f33"/>
<path d="M326.27,373.1L329.87,379.7L322.67,379.7Z" fill="#dc1f33"/>
</g>
<line x1="174.2" y1="287.5" x2="190.2" y2="287.5" stroke="#5aaa57" stroke-width="1.3"/>
<rect x="179.4" y="284.7" width="5.6" height="5.6" fill="#5aaa57"/>
<text transform="translate(195.1,290.9) scale(1,1.14)" font-size="9.7"><tspan font-style="italic">J</tspan><tspan font-size="6.9" dy="1.3">ij</tspan></text>
<line x1="174.2" y1="309.4" x2="190.2" y2="309.4" stroke="#dc1f33" stroke-width="1.3"/>
<path d="M182.2,306.6L185.7,313L178.7,313Z" fill="#dc1f33"/>
<text transform="translate(195.1,312.8) scale(1,1.14)" font-size="9.7"><tspan font-style="italic">B</tspan><tspan font-size="6.9" dy="1.3">ij</tspan></text>
<line x1="487.6" y1="230.4" x2="487.6" y2="406.3" stroke="#999" stroke-width="1"/>
<line x1="585.4" y1="230.4" x2="585.4" y2="406.3" stroke="#999" stroke-width="1"/>
<line x1="390.0" y1="402.1" x2="393.0" y2="402.1" stroke="#aaa" stroke-width="0.8"/>
<line x1="683.4" y1="402.1" x2="680.4" y2="402.1" stroke="#aaa" stroke-width="0.8"/>
<text x="388.1" y="406.8" font-size="13.3" text-anchor="end" >0</text>
<line x1="390.0" y1="359.2" x2="393.0" y2="359.2" stroke="#aaa" stroke-width="0.8"/>
<line x1="683.4" y1="359.2" x2="680.4" y2="359.2" stroke="#aaa" stroke-width="0.8"/>
<text x="388.1" y="363.9" font-size="13.3" text-anchor="end" >50</text>
<line x1="390.0" y1="316.3" x2="393.0" y2="316.3" stroke="#aaa" stroke-width="0.8"/>
<line x1="683.4" y1="316.3" x2="680.4" y2="316.3" stroke="#aaa" stroke-width="0.8"/>
<text x="388.1" y="321" font-size="13.3" text-anchor="end" >100</text>
<line x1="390.0" y1="273.4" x2="393.0" y2="273.4" stroke="#aaa" stroke-width="0.8"/>
<line x1="683.4" y1="273.4" x2="680.4" y2="273.4" stroke="#aaa" stroke-width="0.8"/>
<text x="388.1" y="278.1" font-size="13.3" text-anchor="end" >150</text>
<line x1="390.0" y1="230.5" x2="393.0" y2="230.5" stroke="#aaa" stroke-width="0.8"/>
<line x1="683.4" y1="230.5" x2="680.4" y2="230.5" stroke="#aaa" stroke-width="0.8"/>
<text x="388.1" y="235.2" font-size="13.3" text-anchor="end" >200</text>
<line x1="478.14" y1="406.3" x2="478.14" y2="403.3" stroke="#aaa" stroke-width="0.8"/>
<line x1="478.14" y1="230.4" x2="478.14" y2="233.4" stroke="#aaa" stroke-width="0.8"/>
<text x="480.04" y="418.5" font-size="13.3" text-anchor="middle" >5</text>
<line x1="576.07" y1="406.3" x2="576.07" y2="403.3" stroke="#aaa" stroke-width="0.8"/>
<line x1="576.07" y1="230.4" x2="576.07" y2="233.4" stroke="#aaa" stroke-width="0.8"/>
<text x="577.97" y="418.5" font-size="13.3" text-anchor="middle" >10</text>
<line x1="674" y1="406.3" x2="674" y2="403.3" stroke="#aaa" stroke-width="0.8"/>
<line x1="674" y1="230.4" x2="674" y2="233.4" stroke="#aaa" stroke-width="0.8"/>
<text x="675.9" y="418.5" font-size="13.3" text-anchor="middle" >15</text>
<text x="537.2" y="431" font-size="12.85" text-anchor="middle" >Different non&#8722;collinear states</text>
<text x="0" y="0" font-size="12.5" text-anchor="middle" transform="translate(362.3,317.6) rotate(-90)">Energy (meV)</text>
<line x1="390.0" y1="230.4" x2="683.4" y2="230.4" stroke="#333" stroke-width="1.2"/>
<line x1="390.0" y1="406.3" x2="683.4" y2="406.3" stroke="#333" stroke-width="1.2"/>
<line x1="390.0" y1="230.4" x2="390.0" y2="406.3" stroke="#777" stroke-width="1.2"/>
<line x1="683.4" y1="230.4" x2="683.4" y2="406.3" stroke="#777" stroke-width="1.2"/>
<text x="394.6" y="243.8" font-size="10" text-anchor="start" letter-spacing="0.55">(d)</text>
<g>
<circle cx="399.8" cy="400.13" r="4.4" fill="#000"/>
<circle cx="419.39" cy="399.35" r="4.4" fill="#000"/>
<circle cx="438.97" cy="399.7" r="4.4" fill="#000"/>
<circle cx="458.56" cy="401.84" r="4.4" fill="#000"/>
<circle cx="478.14" cy="400.38" r="4.4" fill="#000"/>
<circle cx="497.73" cy="350.36" r="4.4" fill="#000"/>
<circle cx="517.32" cy="348.39" r="4.4" fill="#000"/>
<circle cx="536.9" cy="353.54" r="4.4" fill="#000"/>
<circle cx="556.49" cy="354.05" r="4.4" fill="#000"/>
<circle cx="576.07" cy="359.71" r="4.4" fill="#000"/>
<circle cx="595.66" cy="302.57" r="4.4" fill="#000"/>
<circle cx="615.25" cy="284.21" r="4.4" fill="#000"/>
<circle cx="634.83" cy="289.02" r="4.4" fill="#000"/>
<circle cx="654.42" cy="320.93" r="4.4" fill="#000"/>
<circle cx="674" cy="300" r="4.4" fill="#000"/>
<circle cx="399.8" cy="400.81" r="3.4" fill="#6a55a8"/>
<circle cx="419.39" cy="401.24" r="3.4" fill="#6a55a8"/>
<circle cx="438.97" cy="402.1" r="3.4" fill="#6a55a8"/>
<circle cx="458.56" cy="402.1" r="3.4" fill="#6a55a8"/>
<circle cx="478.14" cy="400.81" r="3.4" fill="#6a55a8"/>
<circle cx="497.73" cy="364.69" r="3.4" fill="#6a55a8"/>
<circle cx="517.32" cy="369.84" r="3.4" fill="#6a55a8"/>
<circle cx="536.9" cy="364.26" r="3.4" fill="#6a55a8"/>
<circle cx="556.49" cy="370.27" r="3.4" fill="#6a55a8"/>
<circle cx="576.07" cy="372.67" r="3.4" fill="#6a55a8"/>
<circle cx="595.66" cy="321.28" r="3.4" fill="#6a55a8"/>
<circle cx="615.25" cy="321.96" r="3.4" fill="#6a55a8"/>
<circle cx="634.83" cy="317.67" r="3.4" fill="#6a55a8"/>
<circle cx="654.42" cy="330.89" r="3.4" fill="#6a55a8"/>
<circle cx="674" cy="321.96" r="3.4" fill="#6a55a8"/>
<circle cx="399.8" cy="403.39" r="3.4" fill="#3a7d40"/>
<circle cx="419.39" cy="400.98" r="3.4" fill="#3a7d40"/>
<circle cx="438.97" cy="402.53" r="3.4" fill="#3a7d40"/>
<circle cx="458.56" cy="402.01" r="3.4" fill="#3a7d40"/>
<circle cx="478.14" cy="402.53" r="3.4" fill="#3a7d40"/>
<circle cx="497.73" cy="349.76" r="3.4" fill="#3a7d40"/>
<circle cx="517.32" cy="347.19" r="3.4" fill="#3a7d40"/>
<circle cx="536.9" cy="354.48" r="3.4" fill="#3a7d40"/>
<circle cx="556.49" cy="354.05" r="3.4" fill="#3a7d40"/>
<circle cx="576.07" cy="358.34" r="3.4" fill="#3a7d40"/>
<circle cx="595.66" cy="299.91" r="3.4" fill="#3a7d40"/>
<circle cx="615.25" cy="283.7" r="3.4" fill="#3a7d40"/>
<circle cx="634.83" cy="286.1" r="3.4" fill="#3a7d40"/>
<circle cx="654.42" cy="319.05" r="3.4" fill="#3a7d40"/>
<circle cx="674" cy="297.08" r="3.4" fill="#3a7d40"/>
<circle cx="399.8" cy="403.47" r="3.4" fill="#f08a36"/>
<circle cx="419.39" cy="401.07" r="3.4" fill="#f08a36"/>
<circle cx="438.97" cy="402.79" r="3.4" fill="#f08a36"/>
<circle cx="458.56" cy="402.1" r="3.4" fill="#f08a36"/>
<circle cx="478.14" cy="402.79" r="3.4" fill="#f08a36"/>
<circle cx="497.73" cy="347.36" r="3.4" fill="#f08a36"/>
<circle cx="517.32" cy="347.02" r="3.4" fill="#f08a36"/>
<circle cx="536.9" cy="355.25" r="3.4" fill="#f08a36"/>
<circle cx="556.49" cy="354.05" r="3.4" fill="#f08a36"/>
<circle cx="576.07" cy="355.94" r="3.4" fill="#f08a36"/>
<circle cx="595.66" cy="307.81" r="3.4" fill="#f08a36"/>
<circle cx="615.25" cy="291.16" r="3.4" fill="#f08a36"/>
<circle cx="634.83" cy="295.36" r="3.4" fill="#f08a36"/>
<circle cx="654.42" cy="327.2" r="3.4" fill="#f08a36"/>
<circle cx="674" cy="301.46" r="3.4" fill="#f08a36"/>
<circle cx="399.8" cy="404.67" r="3.4" fill="#c65552"/>
<circle cx="419.39" cy="400.81" r="3.4" fill="#c65552"/>
<circle cx="438.97" cy="402.01" r="3.4" fill="#c65552"/>
<circle cx="458.56" cy="401.93" r="3.4" fill="#c65552"/>
<circle cx="478.14" cy="401.93" r="3.4" fill="#c65552"/>
<circle cx="497.73" cy="321.79" r="3.4" fill="#c65552"/>
<circle cx="517.32" cy="315.27" r="3.4" fill="#c65552"/>
<circle cx="536.9" cy="332" r="3.4" fill="#c65552"/>
<circle cx="556.49" cy="343.24" r="3.4" fill="#c65552"/>
<circle cx="576.07" cy="339.64" r="3.4" fill="#c65552"/>
<circle cx="595.66" cy="257.7" r="3.4" fill="#c65552"/>
<circle cx="615.25" cy="239.51" r="3.4" fill="#c65552"/>
<circle cx="634.83" cy="246.46" r="3.4" fill="#c65552"/>
<circle cx="654.42" cy="299.05" r="3.4" fill="#c65552"/>
<circle cx="674" cy="275.72" r="3.4" fill="#c65552"/>
</g>
<circle cx="453.4" cy="246.9" r="4.4" fill="#000"/>
<circle cx="453.4" cy="263.1" r="3.4" fill="#6a55a8"/>
<circle cx="453.4" cy="278.6" r="3.4" fill="#3a7d40"/>
<circle cx="453.4" cy="295.1" r="3.4" fill="#f08a36"/>
<circle cx="453.4" cy="310.6" r="3.4" fill="#c65552"/>
<text x="413.6" y="251.6" font-size="13" text-anchor="start" >SC</text>
<text x="413.6" y="266.6" font-size="13" font-style="italic">E<tspan font-size="10" dy="4">0</tspan></text>
<text x="413.6" y="282.1" font-size="13" font-style="italic">E<tspan font-size="10" dy="4">0</tspan><tspan dy="-5" dx="1.6" font-size="13">&#8242;</tspan></text>
<text x="413.6" y="298.6" font-size="13" font-style="italic">E<tspan font-size="10" dy="4">2</tspan></text>
<text x="413.6" y="314.1" font-size="13" font-style="italic">E<tspan font-size="10" dy="4">2</tspan><tspan dy="-5" dx="1.6" font-size="13">&#8242;</tspan></text>
</svg>
</body></html>
